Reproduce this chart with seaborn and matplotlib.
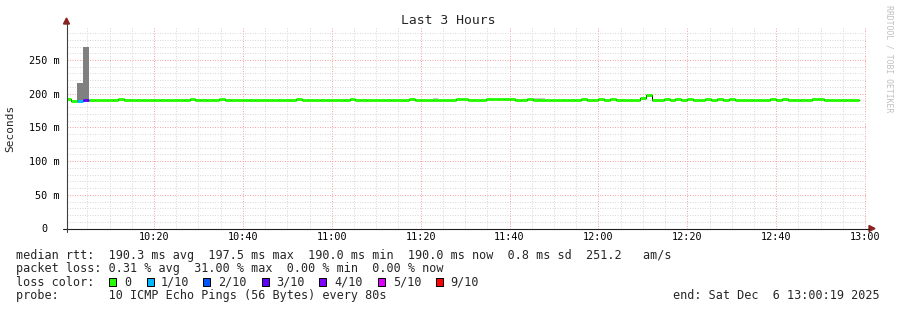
import numpy as np
import pandas as pd
import matplotlib
matplotlib.use("Agg")
import matplotlib.pyplot as plt
import seaborn as sns
from matplotlib.patches import Rectangle, Polygon
from matplotlib.lines import Line2D
from matplotlib.transforms import ScaledTranslation

# ---------------- data ----------------
step_seconds = 80
view_start_min = 19 / 60.0          # 10:00:19
view_span_min = 180.0               # 3 hours

# median rtt per 80 s step (ms), starting 10:00:00
median_ms = [
    191.5, 189.5, 189.0, 190.0, 190.0, 190.0, 190.0, 190.0, 190.0, 191.5,
    190.0, 190.0, 190.0, 190.0, 190.0, 190.0, 190.0, 190.0, 190.0, 190.0,
    190.0, 191.5, 190.0, 190.0, 190.0, 190.0, 191.5, 190.0, 190.0, 190.0,
    190.0, 190.0, 190.0, 190.0, 190.0, 190.0, 190.0, 190.0, 190.0, 191.5,
    190.0, 190.0, 190.0, 190.0, 190.0, 190.0, 190.0, 190.0, 191.5, 190.0,
    190.0, 190.0, 190.0, 190.0, 190.0, 190.0, 190.0, 190.0, 191.5, 190.0,
    190.0, 190.0, 190.0, 190.0, 190.0, 190.0, 191.5, 191.5, 190.0, 190.0,
    190.0, 191.5, 191.5, 191.5, 191.5, 191.5, 190.0, 190.0, 191.5, 190.0,
    190.0, 190.0, 190.0, 190.0, 190.0, 190.0, 190.0, 191.5, 190.0, 190.0,
    191.5, 190.0, 191.5, 190.0, 190.0, 190.0, 190.0, 194.0, 197.5, 190.0,
    190.0, 191.5, 190.0, 191.5, 190.0, 191.5, 190.0, 190.0, 191.5, 190.0,
    191.5, 190.0, 191.5, 190.0, 190.0, 190.0, 190.0, 190.0, 190.0, 191.5,
    190.0, 191.5, 190.0, 190.0, 190.0, 190.0, 191.5, 191.5, 190.0, 190.0,
    190.0, 190.0, 190.0, 190.0,
]

# lost pings (of 10) per step
loss_count = [
    0, 0, 1, 3, 0, 0, 0, 0, 0, 0,
    0, 0, 0, 0, 0, 0, 0, 0, 0, 0,
    0, 0, 0, 0, 0, 0, 0, 0, 0, 0,
    0, 0, 0, 0, 0, 0, 0, 0, 0, 0,
    0, 0, 0, 0, 0, 0, 0, 0, 0, 0,
    0, 0, 0, 0, 0, 0, 0, 0, 0, 0,
    0, 0, 0, 0, 0, 0, 0, 0, 0, 0,
    0, 0, 0, 0, 0, 0, 0, 0, 0, 0,
    0, 0, 0, 0, 0, 0, 0, 0, 0, 0,
    0, 0, 0, 0, 0, 0, 0, 0, 0, 0,
    0, 0, 0, 0, 0, 0, 0, 0, 0, 0,
    0, 0, 0, 0, 0, 0, 0, 0, 0, 0,
    0, 0, 0, 0, 0, 0, 0, 0, 0, 0,
    0, 0, 0, 0,
]

# light smoke (spread of pings) where visible
smoke_step = [4, 10, 11, 22, 23, 31, 32, 36, 41, 62, 69, 71, 73, 74, 79, 80, 82, 84, 94, 105, 108, 121, 131]
smoke_lo = [188.0, 190.0, 190.0, 190.0, 190.0, 188.0, 188.0, 190.0, 190.0, 190.0, 188.5, 188.5, 188.5, 188.5,
            190.0, 190.0, 188.5, 190.0, 190.0, 188.5, 188.5, 188.5, 188.5]
smoke_hi = [190.0, 192.5, 192.5, 191.5, 191.5, 192.0, 192.0, 192.0, 192.5, 193.0, 190.0, 190.0, 190.0, 190.0,
            193.0, 193.0, 190.0, 192.5, 192.0, 190.0, 190.0, 190.0, 190.0]
# dark smoke spike
spike_step = [2, 3]
spike_lo = [187.5, 189.0]
spike_hi = [216.0, 270.0]

loss_labels = ["0", "1/10", "2/10", "3/10", "4/10", "5/10", "9/10"]
loss_colors = ["#26ff00", "#00b8ff", "#0059ff", "#5e00ff", "#7e00ff", "#dd00ff", "#ff0000"]

xtick_labels = ["10:20", "10:40", "11:00", "11:20", "11:40", "12:00", "12:20", "12:40", "13:00"]
ytick_values = [0, 50, 100, 150, 200, 250]
ytick_labels = ["0", "50 m", "100 m", "150 m", "200 m", "250 m"]

title = "Last 3 Hours"
ylabel = "Seconds"
line_rtt = "median rtt:  190.3 ms avg  197.5 ms max  190.0 ms min  190.0 ms now  0.8 ms sd  251.2   am/s"
line_loss = "packet loss: 0.31 % avg  31.00 % max  0.00 % min  0.00 % now"
line_color = "loss color:"
line_probe = "probe:       10 ICMP Echo Pings (56 Bytes) every 80s"
line_end = "end: Sat Dec  6 13:00:19 2025"
watermark = "RRDTOOL / TOBI OETIKER"

# ---------------- figure ----------------
W, H = 897, 310
def fx(px): return px / W
def fy(py): return 1 - py / H

sns.set_style("white")
plt.rcParams["font.family"] = ["DejaVu Sans Mono", "DejaVu Sans"]

fig = plt.figure(figsize=(W / 100, H / 100), dpi=100)
fig.patch.set_facecolor("white")
ax_bottom_px, ax_top_px = 228.5, 27.6
ax = fig.add_axes([fx(66.5), fy(ax_bottom_px), 800 / W, (ax_bottom_px - ax_top_px) / H])
ax.set_facecolor("white")

step_min = step_seconds / 60.0
n = len(median_ms)
edges = np.arange(n + 1) * step_min
med = np.array(median_ms)

def loss_idx(c):
    if c <= 4:
        return c
    if c <= 8:
        return 5
    return 6

seg_colors = [loss_colors[loss_idx(c)] for c in loss_count]

# smoke
ax.bar(edges[smoke_step], np.array(smoke_hi) - np.array(smoke_lo), bottom=smoke_lo,
       width=step_min, align="edge", color="#c6c6c6", linewidth=0, zorder=2)
ax.bar(edges[spike_step], np.array(spike_hi) - np.array(spike_lo), bottom=spike_lo,
       width=step_min, align="edge", color="#808080", linewidth=0, zorder=2)

# thin black median step line (shows jumps)
df = pd.DataFrame({"t": edges, "v": np.append(med, med[-1])})
sns.lineplot(data=df, x="t", y="v", drawstyle="steps-post", color="black",
             linewidth=0.72, ax=ax, zorder=3, estimator=None, legend=False)

# coloured median segments by loss
ax.hlines(med, edges[:-1], edges[1:], colors=seg_colors, linewidth=2.1, zorder=4)

# axes limits / ticks
ax.set_xlim(view_start_min, view_start_min + view_span_min)
ax.set_ylim(0, 298.1)
xtick_pos = [(int(s[:2]) - 10) * 60 + int(s[3:]) for s in xtick_labels]
ax.set_xticks(xtick_pos)
ax.set_xticklabels(xtick_labels)
ax.xaxis.set_minor_locator(matplotlib.ticker.MultipleLocator(5))
ax.set_yticks(ytick_values)
ax.set_yticklabels(ytick_labels)
ax.yaxis.set_minor_locator(matplotlib.ticker.MultipleLocator(10))
ax.tick_params(axis="both", which="both", length=0, labelsize=7.3, labelcolor="black")
ax.tick_params(axis="y", pad=5.2)
ax.tick_params(axis="x", pad=2.6)
ax.set_xlabel("")
ax.set_ylabel(ylabel, fontsize=8)
ax.yaxis.label.set_va("center")
ax.yaxis.set_label_coords((10.7 - 66.5) / 800, 0.5)

ax.set_axisbelow(True)
ax.grid(which="minor", color="#d9d9d9", linestyle=(0, (1, 1.5)), linewidth=0.72)
ax.grid(which="major", color="#f4a6a6", linestyle=(0, (1, 1.5)), linewidth=0.72)
for s in ax.spines.values():
    s.set_visible(False)

# axis lines + arrows
fig.add_artist(Line2D([fx(63), fx(869)], [fy(228.5), fy(228.5)], color="#202020", lw=0.8))
fig.add_artist(Line2D([fx(66.5), fx(66.5)], [fy(232), fy(23)], color="#404040", lw=0.8))
fig.add_artist(Polygon([(fx(869), fy(225.5)), (fx(875), fy(228.5)), (fx(869), fy(231.5))],
                       closed=True, color="#8b2222", transform=fig.transFigure))
fig.add_artist(Polygon([(fx(63.5), fy(24)), (fx(66.5), fy(18)), (fx(69.5), fy(24))],
                       closed=True, color="#8b2222", transform=fig.transFigure))

# shift "0" label so it sits under the digits of the others
lab0 = ax.yaxis.get_major_ticks()[0].label1
lab0.set_transform(lab0.get_transform() + ScaledTranslation(-11.6 / 100, 0, fig.dpi_scale_trans))

# title and texts
fig.text(fx(447.9), fy(20.7), title, ha="center", va="center", fontsize=9.4)
fs = 8.5
fig.text(fx(16), fy(258.5), line_rtt, ha="left", va="baseline", fontsize=fs)
fig.text(fx(16), fy(272.0), line_loss, ha="left", va="baseline", fontsize=fs)
fig.text(fx(16), fy(285.7), line_color, ha="left", va="baseline", fontsize=fs)
fig.text(fx(16), fy(299.3), line_probe, ha="left", va="baseline", fontsize=fs)
fig.text(fx(880), fy(299.3), line_end, ha="right", va="baseline", fontsize=fs)

sq_x = [109, 146.7, 203.3, 261.7, 319.3, 377.7, 436]
lab_x = [124, 161, 218.3, 276, 334.3, 392.7, 450]
for xs, xl, lab, col in zip(sq_x, lab_x, loss_labels, loss_colors):
    fig.add_artist(Rectangle((fx(xs), fy(285.7)), 7 / W, 7.4 / H, facecolor=col,
                             edgecolor="black", linewidth=0.72, transform=fig.transFigure))
    fig.text(fx(xl), fy(285.7), lab, ha="left", va="baseline", fontsize=fs)

fig.text(fx(889), fy(59), watermark, rotation=270, ha="center", va="center",
         fontsize=5.9, color="#c0c0c0")

fig.savefig("out.png", dpi=100, facecolor="white")
